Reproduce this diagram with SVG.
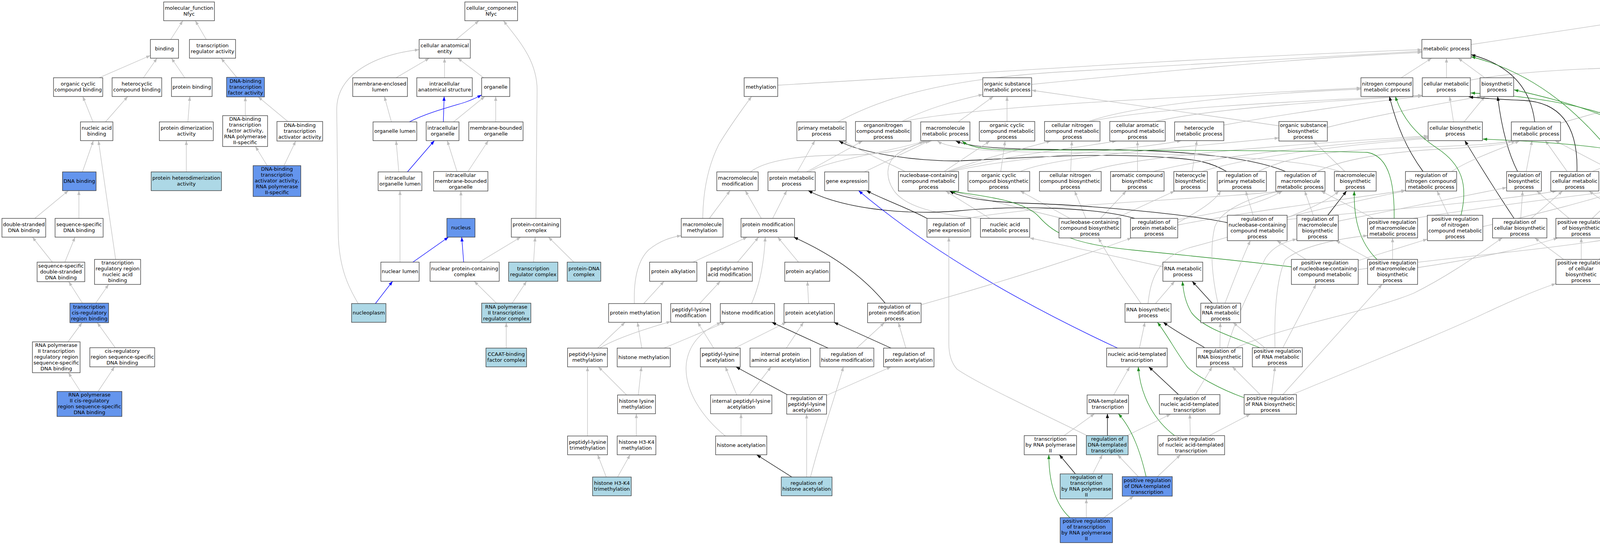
<svg xmlns="http://www.w3.org/2000/svg" width="4565" height="1395" viewBox="0 0 4565 1395">
<style>
text{font-family:"DejaVu Sans",Verdana,sans-serif;font-size:13px;text-anchor:middle;fill:#000}
rect.w,rect.lb,rect.bl{stroke:#333;stroke-width:1.3}
.w{fill:#fff}.lb{fill:#add8e6}.bl{fill:#6495ed}
#edges path{fill:none;stroke-width:1.3}
.g{stroke:#bebebe;marker-end:url(#ag)}
.k{stroke:#000;marker-end:url(#ak)}
.b{stroke:#0000ff;marker-end:url(#ab)}
.v{stroke:#228b22;marker-end:url(#av)}
</style>
<defs>
<marker id="ag" viewBox="0 0 11 8" refX="11" refY="4" markerWidth="11" markerHeight="8" markerUnits="userSpaceOnUse" orient="auto"><path d="M0,0L11,4L0,8z" fill="#bebebe"/></marker>
<marker id="ak" viewBox="0 0 11 8" refX="11" refY="4" markerWidth="11" markerHeight="8" markerUnits="userSpaceOnUse" orient="auto"><path d="M0,0L11,4L0,8z" fill="#000"/></marker>
<marker id="ab" viewBox="0 0 11 8" refX="11" refY="4" markerWidth="11" markerHeight="8" markerUnits="userSpaceOnUse" orient="auto"><path d="M0,0L11,4L0,8z" fill="#0000ff"/></marker>
<marker id="av" viewBox="0 0 11 8" refX="11" refY="4" markerWidth="11" markerHeight="8" markerUnits="userSpaceOnUse" orient="auto"><path d="M0,0L11,4L0,8z" fill="#228b22"/></marker>
</defs>
<rect x="0" y="0" width="4565" height="1395" fill="#fff"/>
<g id="edges">
<path class="g" d="M437,101 L468,53"/>
<path class="g" d="M528,101 L500,53"/>
<path class="g" d="M254,199 L385,142"/>
<path class="g" d="M367,199 L402,149"/>
<path class="g" d="M473,199 L439,149"/>
<path class="g" d="M606,198 L566,149"/>
<path class="g" d="M238,312 L212,247"/>
<path class="g" d="M270,312 L327,247"/>
<path class="g" d="M481,312 L486,247"/>
<path class="g" d="M628,296 L628,248"/>
<path class="g" d="M737,311 L661,248"/>
<path class="g" d="M211,440 L239,360"/>
<path class="g" d="M296,664 L252,360"/>
<path class="g" d="M477,440 L477,360"/>
<path class="g" d="M684,424 L654,375"/>
<path class="g" d="M727,424 L757,361"/>
<path class="g" d="M89,559 L175,488"/>
<path class="g" d="M202,559 L202,488"/>
<path class="g" d="M134,671 L83,607"/>
<path class="g" d="M166,671 L192,607"/>
<path class="g" d="M211,776 L176,721"/>
<path class="g" d="M245,776 L278,728"/>
<path class="g" d="M174,875 L210,826"/>
<path class="g" d="M295,890 L249,826"/>
<path class="g" d="M206,1002 L175,954"/>
<path class="g" d="M251,1002 L293,939"/>
<path class="g" d="M1168,101 L1226,53"/>
<path class="g" d="M1372,559 L1375,230 C1375,150 1320,95 1289,53"/>
<path class="g" d="M1014,199 L1099,149"/>
<path class="g" d="M1138,199 L1138,149"/>
<path class="g" d="M1238,199 L1172,149"/>
<path class="g" d="M1002,312 L984,247"/>
<path class="b" d="M1048,312 C1090,290 1150,274 1190,262 C1210,255 1222,249 1233,243"/>
<path class="b" d="M1135,312 L1137,247"/>
<path class="g" d="M1161,312 L1241,247"/>
<path class="g" d="M1269,312 L1269,247"/>
<path class="g" d="M1021,440 L1014,360"/>
<path class="b" d="M1043,440 L1112,360"/>
<path class="g" d="M1170,439 L1145,360"/>
<path class="g" d="M1198,439 L1250,360"/>
<path class="g" d="M1180,559 L1180,489"/>
<path class="g" d="M1024,671 L1024,488"/>
<path class="b" d="M1057,671 L1148,607"/>
<path class="b" d="M1187,671 L1182,607"/>
<path class="g" d="M1227,671 L1333,607"/>
<path class="g" d="M1366,671 L1370,607"/>
<path class="g" d="M1469,671 L1404,607"/>
<path class="b" d="M961,777 L1005,720"/>
<path class="g" d="M917,777 C895,740 868,690 866,600 L862,280 C862,190 960,140 1073,127"/>
<path class="g" d="M1271,776 L1214,720"/>
<path class="g" d="M1311,776 L1348,720"/>
<path class="g" d="M1296,891 L1296,826"/>
<path class="g" d="M1991,218 C2400,195 3000,150 3640,127"/>
<path class="g" d="M2145,312 C2250,255 2400,205 2700,185 L3640,131"/>
<path class="g" d="M2641,216 C2900,190 3300,150 3640,134"/>
<path class="g" d="M2309,311 C2360,283 2440,258 2516,242"/>
<path class="g" d="M2312,311 C2500,270 3100,245 3484,225"/>
<path class="g" d="M2453,312 L2543,247"/>
<path class="g" d="M2578,311 L2578,247"/>
<path class="g" d="M2787,311 C2900,270 3200,240 3484,228"/>
<path class="g" d="M2792,311 C2950,275 3350,258 3641,244"/>
<path class="g" d="M2958,311 C3100,278 3400,258 3641,245"/>
<path class="g" d="M3133,320 C3300,290 3500,262 3641,246"/>
<path class="g" d="M3274,322 L2641,231"/>
<path class="g" d="M3398,326 C3500,300 3700,262 3793,247"/>
<path class="g" d="M3748,312 L3801,247"/>
<path class="g" d="M3721,312 L3711,247"/>
<path class="g" d="M3587,199 L3665,149"/>
<path class="g" d="M3703,199 L3703,149"/>
<path class="g" d="M3801,199 L3733,149"/>
<path class="g" d="M3764,205 C3900,180 4100,174 4200,172 C4300,170 4370,160 4406,148"/>
<path class="g" d="M3766,114 L4249,41"/>
<path class="g" d="M4312,101 L4312,53"/>
<path class="g" d="M4422,101 L4351,53"/>
<path class="g" d="M4312,199 L4312,149"/>
<path class="k" d="M4273,199 C4240,175 4215,150 4224,120 C4232,92 4250,70 4266,53"/>
<path class="k" d="M3929,312 C3920,240 3880,170 3766,140"/>
<path class="g" d="M3995,315 L4250,243"/>
<path class="v" d="M4166,439 C4090,350 3980,200 3766,145"/>
<path class="g" d="M4132,439 L3981,360"/>
<path class="g" d="M4244,440 L4429,361"/>
<path class="g" d="M4329,312 L4317,247"/>
<path class="k" d="M4347,312 L4444,149"/>
<path class="g" d="M4439,311 L4351,247"/>
<path class="v" d="M4493,311 C4540,230 4560,150 4530,100 C4500,55 4430,38 4376,32"/>
<path class="g" d="M4454,439 L4366,360"/>
<path class="g" d="M4483,439 L4478,361"/>
<path class="v" d="M4512,439 C4560,390 4565,330 4545,270 C4525,210 4500,180 4481,149"/>
<path class="g" d="M3907,439 L3922,360"/>
<path class="k" d="M3885,439 C3860,390 3843,320 3834,247"/>
<path class="g" d="M4012,439 L3956,360"/>
<path class="g" d="M4076,439 L4280,357"/>
<path class="k" d="M4037,439 C4040,330 4000,262 3900,257 C3830,254 3790,251 3760,248"/>
<path class="v" d="M4224,559 C4275,480 4240,340 4100,290 C3980,252 3850,242 3765,238"/>
<path class="v" d="M4107,558 C4200,545 4275,510 4265,440 C4255,360 4150,290 3876,230"/>
<path class="v" d="M4112,690 C4250,660 4320,560 4300,460 C4280,380 4000,365 3796,356"/>
<path class="g" d="M3893,559 L3898,489"/>
<path class="g" d="M3920,559 L4000,489"/>
<path class="k" d="M3876,559 C3830,490 3780,410 3750,360"/>
<path class="g" d="M4017,559 L3934,489"/>
<path class="g" d="M4076,559 L4149,489"/>
<path class="g" d="M4166,559 L4068,489"/>
<path class="g" d="M4195,559 L4188,489"/>
<path class="g" d="M4264,559 L4434,489"/>
<path class="g" d="M4003,664 L3929,609"/>
<path class="g" d="M4048,664 L4048,609"/>
<path class="g" d="M4093,664 L4161,609"/>
<path class="k" d="M3140,439 C3100,415 3060,408 3000,404 C2800,388 2600,406 2450,412 C2330,412 2200,390 2148,361"/>
<path class="k" d="M3291,439 C3200,400 3000,383 2800,383 C2600,383 2490,380 2447,361"/>
<path class="g" d="M3221,439 C3300,400 3400,385 3600,378 C3750,373 3830,370 3872,360"/>
<path class="g" d="M3372,439 C3450,400 3600,386 3700,381 C3800,376 3850,370 3880,361"/>
<path class="g" d="M3716,439 C3760,410 3830,385 3890,361"/>
<path class="k" d="M3643,439 C3600,380 3575,320 3557,247"/>
<path class="g" d="M3443,439 L3362,361"/>
<path class="g" d="M3430,439 C3300,395 2900,392 2700,390 C2550,389 2430,382 2400,361"/>
<path class="g" d="M2741,439 L2744,361"/>
<path class="g" d="M2787,439 C2900,400 3300,370 3656,348"/>
<path class="g" d="M2912,439 L2912,361"/>
<path class="g" d="M2953,439 C3100,400 3400,370 3656,351"/>
<path class="g" d="M3052,439 L3064,360"/>
<path class="g" d="M3077,439 C3200,400 3450,370 3656,354"/>
<path class="g" d="M2562,439 L2573,361"/>
<path class="g" d="M2612,439 C2700,400 3000,380 3274,353"/>
<path class="g" d="M2317,439 C2270,415 2200,385 2158,360"/>
<path class="g" d="M2417,439 L2534,361"/>
<path class="g" d="M2426,439 C2500,410 2620,380 2690,361"/>
<path class="g" d="M2430,439 C2550,400 2750,380 2858,361"/>
<path class="g" d="M2435,439 C2600,400 2900,385 3024,360"/>
<path class="g" d="M2534,559 L2421,489"/>
<path class="g" d="M2514,559 C2400,550 2320,530 2290,490 C2265,455 2270,420 2290,400 C2320,375 2360,365 2386,360"/>
<path class="k" d="M2373,559 C2330,535 2260,510 2218,488"/>
<path class="g" d="M2475,559 C2700,520 3100,510 3280,489"/>
<path class="g" d="M2719,559 L2436,489"/>
<path class="g" d="M2739,559 L2612,489"/>
<path class="g" d="M2780,559 L2751,489"/>
<path class="g" d="M2817,559 L2883,489"/>
<path class="g" d="M2856,559 L3007,489"/>
<path class="k" d="M2905,559 C2800,530 2600,525 2450,540 C2300,552 2150,530 2069,488"/>
<path class="g" d="M3015,562 C3150,540 3230,520 3283,489"/>
<path class="g" d="M3015,570 C3070,540 3110,515 3125,489"/>
<path class="g" d="M3015,576 C3200,540 3450,510 3598,487"/>
<path class="k" d="M3142,570 C3050,550 2800,525 2620,520 C2520,516 2460,505 2431,489"/>
<path class="v" d="M3306,683 C3200,670 3050,655 2900,640 C2750,625 2700,600 2660,555 C2620,510 2500,500 2434,489"/>
<path class="g" d="M3208,551 L3189,489"/>
<path class="g" d="M3295,556 C3400,530 3520,505 3598,488"/>
<path class="g" d="M3295,562 C3500,540 3800,520 3985,489"/>
<path class="k" d="M3399,551 L3447,489"/>
<path class="g" d="M3362,551 L3340,489"/>
<path class="g" d="M3426,566 C3600,530 3750,500 3857,480"/>
<path class="g" d="M3516,559 L3382,489"/>
<path class="v" d="M3569,559 C3570,480 3560,400 3500,390 C3300,383 2700,385 2560,383 C2510,381 2480,375 2463,361"/>
<path class="g" d="M3618,559 C3800,530 4000,505 4132,489"/>
<path class="g" d="M3708,551 L3679,489"/>
<path class="v" d="M3740,551 C3760,470 3740,420 3680,380 C3620,340 3590,300 3572,247"/>
<path class="g" d="M3796,580 C3950,545 4080,510 4142,489"/>
<path class="g" d="M3343,664 L3269,616"/>
<path class="g" d="M3477,667 L3654,612"/>
<path class="g" d="M3477,690 C3700,660 3950,640 4140,609"/>
<path class="g" d="M3565,664 L3565,609"/>
<path class="g" d="M3508,664 L3420,616"/>
<path class="v" d="M3525,664 C3480,620 3465,560 3467,489"/>
<path class="g" d="M3629,685 C3800,660 3920,630 3988,609"/>
<path class="g" d="M2978,683 L2636,609"/>
<path class="g" d="M2958,777 L3007,720"/>
<path class="g" d="M2921,777 C2890,730 2850,680 2812,609"/>
<path class="g" d="M2939,777 C2945,720 2960,660 3045,634 C3250,580 3380,530 3428,489"/>
<path class="k" d="M3103,776 L3052,720"/>
<path class="g" d="M3136,776 C3150,740 3180,660 3201,616"/>
<path class="g" d="M3118,776 C3105,720 3095,640 3110,580 C3130,530 3220,500 3279,489"/>
<path class="g" d="M3123,890 L3124,826"/>
<path class="k" d="M3084,890 C3060,875 3020,855 2978,825"/>
<path class="g" d="M3142,890 C3160,820 3210,720 3240,660 C3260,630 3290,618 3320,612"/>
<path class="g" d="M3164,890 C3300,830 3500,800 3620,750 C3720,700 3800,640 3846,609"/>
<path class="g" d="M3238,890 L3157,826"/>
<path class="v" d="M3225,890 C3150,860 3080,840 3050,800 C3035,775 3030,750 3027,720"/>
<path class="g" d="M3284,890 L3369,728"/>
<path class="g" d="M3264,890 C3262,820 3265,720 3290,665 C3330,630 3430,610 3501,603"/>
<path class="g" d="M3226,1010 L3155,939"/>
<path class="g" d="M3255,1010 L3264,939"/>
<path class="g" d="M3284,1010 L3538,728"/>
<path class="g" d="M3308,1010 C3500,930 3700,850 3805,800 C3880,765 3940,740 3983,726"/>
<path class="v" d="M3185,1018 C3120,995 3060,960 3040,940 C3010,900 2990,860 2963,825"/>
<path class="g" d="M3060,1010 L3103,939"/>
<path class="k" d="M3017,1010 L2941,939"/>
<path class="g" d="M3047,1115 L3046,1060"/>
<path class="g" d="M3096,1115 L3201,1060"/>
<path class="v" d="M3007,1115 C2960,1080 2920,1020 2914,939"/>
<path class="g" d="M2917,891 L2931,825"/>
<path class="b" d="M2861,891 Q2450,700 2198,488"/>
<path class="g" d="M2851,1011 L2892,939"/>
<path class="g" d="M2724,1115 L2802,1059"/>
<path class="k" d="M2835,1115 L2835,1059"/>
<path class="g" d="M2885,1115 L2997,1060"/>
<path class="g" d="M2783,1115 C2650,1050 2500,980 2450,945 C2432,925 2429,900 2429,880 L2429,607"/>
<path class="g" d="M2914,1220 L2861,1164"/>
<path class="v" d="M2934,1220 C2920,1160 2900,1100 2863,1059"/>
<path class="g" d="M2963,1220 L3022,1164"/>
<path class="k" d="M2753,1213 L2712,1164"/>
<path class="g" d="M2797,1213 L2822,1164"/>
<path class="v" d="M2739,1325 C2700,1290 2685,1230 2685,1164"/>
<path class="g" d="M2781,1325 L2781,1277"/>
<path class="g" d="M2826,1325 L2902,1270"/>
<path class="g" d="M1774,671 L1913,607"/>
<path class="g" d="M1888,671 L1942,607"/>
<path class="g" d="M2044,671 L1991,607"/>
<path class="g" d="M1924,777 C1940,740 1955,690 1959,607"/>
<path class="k" d="M2266,776 C2220,720 2150,660 2032,607"/>
<path class="g" d="M2358,780 C2500,740 2700,680 2897,609"/>
<path class="g" d="M1648,777 L1700,720"/>
<path class="g" d="M1624,777 C1622,720 1630,670 1660,640 C1690,615 1720,607 1744,603"/>
<path class="g" d="M1791,777 L1844,720"/>
<path class="g" d="M2070,777 L2067,720"/>
<path class="g" d="M1530,891 L1600,825"/>
<path class="g" d="M1535,891 C1570,870 1640,845 1717,823"/>
<path class="g" d="M1643,891 L1632,825"/>
<path class="g" d="M1700,891 L1857,825"/>
<path class="g" d="M1827,891 L1786,825"/>
<path class="g" d="M1881,891 L2013,825"/>
<path class="g" d="M2013,891 L2057,825"/>
<path class="k" d="M2120,891 L1976,825"/>
<path class="g" d="M2193,891 L2264,826"/>
<path class="k" d="M2281,891 L2135,825"/>
<path class="g" d="M2319,891 L2300,826"/>
<path class="g" d="M1604,1011 L1532,939"/>
<path class="g" d="M1634,1011 L1642,939"/>
<path class="g" d="M1886,1011 L1857,939"/>
<path class="g" d="M1918,1011 L1974,939"/>
<path class="k" d="M2015,1010 L1884,939"/>
<path class="g" d="M2116,1012 L2281,939"/>
<path class="g" d="M1629,1116 L1629,1059"/>
<path class="g" d="M1504,1116 L1504,939"/>
<path class="g" d="M1897,1116 L1897,1059"/>
<path class="g" d="M1857,1116 C1800,1070 1750,1000 1757,930 C1765,870 1810,840 1846,825"/>
<path class="g" d="M1552,1221 L1530,1164"/>
<path class="g" d="M1581,1221 L1613,1164"/>
<path class="k" d="M2027,1221 L1937,1164"/>
<path class="g" d="M2065,1221 L2065,1060"/>
<path class="g" d="M2075,1221 C2100,1120 2140,1010 2159,939"/>
<path class="g" d="M1799,559 C1800,480 1815,420 1840,370 C1870,320 1900,280 1924,247"/>
<path class="g" d="M1816,559 L1869,488"/>
<path class="g" d="M1949,559 L1908,488"/>
<path class="g" d="M1978,559 L2014,488"/>
<path class="g" d="M1921,440 C1960,410 2050,398 2150,397 C2260,396 2330,385 2364,360"/>
<path class="g" d="M2041,440 L2086,360"/>
<path class="g" d="M2065,440 L2208,361"/>
<path class="g" d="M2071,440 C2120,410 2250,395 2372,360"/>
<path class="g" d="M2213,440 L2380,360"/>
</g>
<g id="n-molecular_function"><rect class="w" x="419" y="5" width="130" height="48"/><text x="484" y="25">molecular_function<tspan x="484" dy="15">Nfyc</tspan></text></g>
<g id="n-binding"><rect class="w" x="385" y="101" width="72" height="48"/><text x="421" y="128.5">binding</text></g>
<g id="n-transcription-regulator-activity"><rect class="w" x="485" y="101" width="118" height="48"/><text x="544" y="121">transcription<tspan x="544" dy="15">regulator activity</tspan></text></g>
<g id="n-organic-cyclic-compound-binding"><rect class="w" x="137" y="199" width="126" height="48"/><text x="200" y="219">organic cyclic<tspan x="200" dy="15">compound binding</tspan></text></g>
<g id="n-heterocyclic-compound-binding"><rect class="w" x="287" y="199" width="127" height="48"/><text x="350.5" y="219">heterocyclic<tspan x="350.5" dy="15">compound binding</tspan></text></g>
<g id="n-protein-binding"><rect class="w" x="439" y="199" width="104" height="48"/><text x="491" y="226.5">protein binding</text></g>
<g id="n-dna-binding-tf-activity"><rect class="bl" x="580" y="198" width="97" height="50"/><text x="628.5" y="211.5">DNA-binding<tspan x="628.5" dy="15">transcription</tspan><tspan x="628.5" dy="15">factor activity</tspan></text></g>
<g id="n-nucleic-acid-binding"><rect class="w" x="206" y="312" width="83" height="48"/><text x="247.5" y="332">nucleic acid<tspan x="247.5" dy="15">binding</tspan></text></g>
<g id="n-protein-dimerization-activity"><rect class="w" x="408" y="312" width="138" height="48"/><text x="477" y="332">protein dimerization<tspan x="477" dy="15">activity</tspan></text></g>
<g id="n-dna-binding-tf-activity-rnap2"><rect class="w" x="570" y="296" width="115" height="79"/><text x="627.5" y="309">DNA-binding<tspan x="627.5" dy="15">transcription</tspan><tspan x="627.5" dy="15">factor activity,</tspan><tspan x="627.5" dy="15">RNA polymerase</tspan><tspan x="627.5" dy="15">II-specific</tspan></text></g>
<g id="n-dna-binding-ta-activity"><rect class="w" x="709" y="311" width="117" height="50"/><text x="767.5" y="324.5">DNA-binding<tspan x="767.5" dy="15">transcription</tspan><tspan x="767.5" dy="15">activator activity</tspan></text></g>
<g id="n-dna-binding"><rect class="bl" x="160" y="440" width="86" height="48"/><text x="203" y="467.5">DNA binding</text></g>
<g id="n-protein-heterodimerization-activity"><rect class="lb" x="387" y="440" width="180" height="48"/><text x="477" y="460">protein heterodimerization<tspan x="477" dy="15">activity</tspan></text></g>
<g id="n-dna-binding-ta-activity-rnap2"><rect class="bl" x="648" y="424" width="122" height="79"/><text x="709" y="437">DNA-binding<tspan x="709" dy="15">transcription</tspan><tspan x="709" dy="15">activator activity,</tspan><tspan x="709" dy="15">RNA polymerase</tspan><tspan x="709" dy="15">II-specific</tspan></text></g>
<g id="n-double-stranded-dna-binding"><rect class="w" x="5" y="559" width="112" height="48"/><text x="61" y="579">double-stranded<tspan x="61" dy="15">DNA binding</tspan></text></g>
<g id="n-sequence-specific-dna-binding"><rect class="w" x="141" y="559" width="123" height="48"/><text x="202.5" y="579">sequence-specific<tspan x="202.5" dy="15">DNA binding</tspan></text></g>
<g id="n-ss-ds-dna-binding"><rect class="w" x="95" y="671" width="122" height="50"/><text x="156" y="684.5">sequence-specific<tspan x="156" dy="15">double-stranded</tspan><tspan x="156" dy="15">DNA binding</tspan></text></g>
<g id="n-transcription-regulatory-region-na-binding"><rect class="w" x="242" y="664" width="118" height="64"/><text x="301" y="677">transcription<tspan x="301" dy="15">regulatory region</tspan><tspan x="301" dy="15">nucleic acid</tspan><tspan x="301" dy="15">binding</tspan></text></g>
<g id="n-transcription-cis-regulatory-region-binding"><rect class="bl" x="179" y="776" width="99" height="50"/><text x="228.5" y="789.5">transcription<tspan x="228.5" dy="15">cis-regulatory</tspan><tspan x="228.5" dy="15">region binding</tspan></text></g>
<g id="n-rnap2-trr-ss-dna-binding"><rect class="w" x="83" y="875" width="122" height="79"/><text x="144" y="888">RNA polymerase<tspan x="144" dy="15">II transcription</tspan><tspan x="144" dy="15">regulatory region</tspan><tspan x="144" dy="15">sequence-specific</tspan><tspan x="144" dy="15">DNA binding</tspan></text></g>
<g id="n-cis-regulatory-ss-dna-binding"><rect class="w" x="230" y="890" width="166" height="49"/><text x="313" y="903">cis-regulatory<tspan x="313" dy="15">region sequence-specific</tspan><tspan x="313" dy="15">DNA binding</tspan></text></g>
<g id="n-rnap2-cis-regulatory-ss-dna-binding"><rect class="bl" x="146" y="1002" width="166" height="64"/><text x="229" y="1015">RNA polymerase<tspan x="229" dy="15">II cis-regulatory</tspan><tspan x="229" dy="15">region sequence-specific</tspan><tspan x="229" dy="15">DNA binding</tspan></text></g>
<g id="n-cellular_component"><rect class="w" x="1190" y="5" width="135" height="48"/><text x="1257.5" y="25">cellular_component<tspan x="1257.5" dy="15">Nfyc</tspan></text></g>
<g id="n-cellular-anatomical-entity"><rect class="w" x="1073" y="101" width="131" height="48"/><text x="1138.5" y="121">cellular anatomical<tspan x="1138.5" dy="15">entity</tspan></text></g>
<g id="n-membrane-enclosed-lumen"><rect class="w" x="903" y="199" width="140" height="48"/><text x="973" y="219">membrane-enclosed<tspan x="973" dy="15">lumen</tspan></text></g>
<g id="n-intracellular-anatomical-structure"><rect class="w" x="1067" y="199" width="142" height="48"/><text x="1138" y="219">intracellular<tspan x="1138" dy="15">anatomical structure</tspan></text></g>
<g id="n-organelle"><rect class="w" x="1233" y="199" width="72" height="48"/><text x="1269" y="226.5">organelle</text></g>
<g id="n-organelle-lumen"><rect class="w" x="955" y="312" width="112" height="48"/><text x="1011" y="339.5">organelle lumen</text></g>
<g id="n-intracellular-organelle"><rect class="w" x="1091" y="312" width="84" height="48"/><text x="1133" y="332">intracellular<tspan x="1133" dy="15">organelle</tspan></text></g>
<g id="n-membrane-bounded-organelle"><rect class="w" x="1200" y="312" width="139" height="48"/><text x="1269.5" y="332">membrane-bounded<tspan x="1269.5" dy="15">organelle</tspan></text></g>
<g id="n-intracellular-organelle-lumen"><rect class="w" x="968" y="440" width="112" height="48"/><text x="1024" y="460">intracellular<tspan x="1024" dy="15">organelle lumen</tspan></text></g>
<g id="n-intracellular-membrane-bounded-organelle"><rect class="w" x="1110" y="439" width="139" height="50"/><text x="1179.5" y="452.5">intracellular<tspan x="1179.5" dy="15">membrane-bounded</tspan><tspan x="1179.5" dy="15">organelle</tspan></text></g>
<g id="n-nucleus"><rect class="bl" x="1144" y="559" width="72" height="48"/><text x="1180" y="586.5">nucleus</text></g>
<g id="n-protein-containing-complex"><rect class="w" x="1309" y="559" width="126" height="48"/><text x="1372" y="579">protein-containing<tspan x="1372" dy="15">complex</tspan></text></g>
<g id="n-nuclear-lumen"><rect class="w" x="975" y="671" width="98" height="49"/><text x="1024" y="699">nuclear lumen</text></g>
<g id="n-nuclear-protein-containing-complex"><rect class="w" x="1101" y="671" width="177" height="49"/><text x="1189.5" y="691.5">nuclear protein-containing<tspan x="1189.5" dy="15">complex</tspan></text></g>
<g id="n-transcription-regulator-complex"><rect class="lb" x="1302" y="671" width="126" height="49"/><text x="1365" y="691.5">transcription<tspan x="1365" dy="15">regulator complex</tspan></text></g>
<g id="n-protein-dna-complex"><rect class="lb" x="1452" y="671" width="86" height="49"/><text x="1495" y="691.5">protein-DNA<tspan x="1495" dy="15">complex</tspan></text></g>
<g id="n-nucleoplasm"><rect class="lb" x="900" y="777" width="88" height="48"/><text x="944" y="804.5">nucleoplasm</text></g>
<g id="n-rnap2-transcription-regulator-complex"><rect class="lb" x="1233" y="776" width="126" height="50"/><text x="1296" y="789.5">RNA polymerase<tspan x="1296" dy="15">II transcription</tspan><tspan x="1296" dy="15">regulator complex</tspan></text></g>
<g id="n-ccaat-binding-factor-complex"><rect class="lb" x="1244" y="891" width="104" height="48"/><text x="1296" y="911">CCAAT-binding<tspan x="1296" dy="15">factor complex</tspan></text></g>
<g id="n-biological_process"><rect class="w" x="4249" y="5" width="127" height="48"/><text x="4312.5" y="25">biological_process<tspan x="4312.5" dy="15">Nfyc</tspan></text></g>
<g id="n-metabolic-process"><rect class="w" x="3640" y="101" width="126" height="48"/><text x="3703" y="128.5">metabolic process</text></g>
<g id="n-biological-regulation"><rect class="w" x="4242" y="101" width="139" height="48"/><text x="4311.5" y="128.5">biological regulation</text></g>
<g id="n-cellular-process"><rect class="w" x="4406" y="101" width="107" height="48"/><text x="4459.5" y="128.5">cellular process</text></g>
<g id="n-methylation"><rect class="w" x="1905" y="199" width="86" height="48"/><text x="1948" y="226.5">methylation</text></g>
<g id="n-organic-substance-metabolic-process"><rect class="w" x="2516" y="199" width="125" height="48"/><text x="2578.5" y="219">organic substance<tspan x="2578.5" dy="15">metabolic process</tspan></text></g>
<g id="n-nitrogen-compound-metabolic-process"><rect class="w" x="3484" y="199" width="133" height="48"/><text x="3550.5" y="219">nitrogen compound<tspan x="3550.5" dy="15">metabolic process</tspan></text></g>
<g id="n-cellular-metabolic-process"><rect class="w" x="3641" y="199" width="123" height="48"/><text x="3702.5" y="219">cellular metabolic<tspan x="3702.5" dy="15">process</tspan></text></g>
<g id="n-biosynthetic-process"><rect class="w" x="3789" y="199" width="86" height="48"/><text x="3832" y="219">biosynthetic<tspan x="3832" dy="15">process</tspan></text></g>
<g id="n-regulation-of-biological-process"><rect class="w" x="4250" y="199" width="123" height="48"/><text x="4311.5" y="219">regulation of<tspan x="4311.5" dy="15">biological process</tspan></text></g>
<g id="n-primary-metabolic-process"><rect class="w" x="2040" y="312" width="126" height="48"/><text x="2103" y="332">primary metabolic<tspan x="2103" dy="15">process</tspan></text></g>
<g id="n-organonitrogen-compound-metabolic-process"><rect class="w" x="2190" y="311" width="142" height="50"/><text x="2261" y="324.5">organonitrogen<tspan x="2261" dy="15">compound metabolic</tspan><tspan x="2261" dy="15">process</tspan></text></g>
<g id="n-macromolecule-metabolic-process"><rect class="w" x="2357" y="312" width="126" height="48"/><text x="2420" y="332">macromolecule<tspan x="2420" dy="15">metabolic process</tspan></text></g>
<g id="n-organic-cyclic-compound-metabolic-process"><rect class="w" x="2507" y="311" width="142" height="50"/><text x="2578" y="324.5">organic cyclic<tspan x="2578" dy="15">compound metabolic</tspan><tspan x="2578" dy="15">process</tspan></text></g>
<g id="n-cellular-nitrogen-compound-metabolic-process"><rect class="w" x="2674" y="311" width="142" height="50"/><text x="2745" y="324.5">cellular nitrogen<tspan x="2745" dy="15">compound metabolic</tspan><tspan x="2745" dy="15">process</tspan></text></g>
<g id="n-cellular-aromatic-compound-metabolic-process"><rect class="w" x="2841" y="311" width="142" height="50"/><text x="2912" y="324.5">cellular aromatic<tspan x="2912" dy="15">compound metabolic</tspan><tspan x="2912" dy="15">process</tspan></text></g>
<g id="n-heterocycle-metabolic-process"><rect class="w" x="3007" y="312" width="126" height="48"/><text x="3070" y="332">heterocycle<tspan x="3070" dy="15">metabolic process</tspan></text></g>
<g id="n-organic-substance-biosynthetic-process"><rect class="w" x="3274" y="311" width="124" height="50"/><text x="3336" y="324.5">organic substance<tspan x="3336" dy="15">biosynthetic</tspan><tspan x="3336" dy="15">process</tspan></text></g>
<g id="n-cellular-biosynthetic-process"><rect class="w" x="3656" y="312" width="139" height="48"/><text x="3725.5" y="332">cellular biosynthetic<tspan x="3725.5" dy="15">process</tspan></text></g>
<g id="n-regulation-of-metabolic-process"><rect class="w" x="3869" y="312" width="126" height="48"/><text x="3932" y="332">regulation of<tspan x="3932" dy="15">metabolic process</tspan></text></g>
<g id="n-regulation-of-cellular-process"><rect class="w" x="4280" y="312" width="107" height="48"/><text x="4333.5" y="332">regulation of<tspan x="4333.5" dy="15">cellular process</tspan></text></g>
<g id="n-positive-regulation-of-biological-process"><rect class="w" x="4412" y="311" width="128" height="50"/><text x="4476" y="324.5">positive regulation<tspan x="4476" dy="15">of biological</tspan><tspan x="4476" dy="15">process</tspan></text></g>
<g id="n-macromolecule-modification"><rect class="w" x="1835" y="440" width="106" height="48"/><text x="1888" y="460">macromolecule<tspan x="1888" dy="15">modification</tspan></text></g>
<g id="n-protein-metabolic-process"><rect class="w" x="1966" y="440" width="121" height="48"/><text x="2026.5" y="460">protein metabolic<tspan x="2026.5" dy="15">process</tspan></text></g>
<g id="n-gene-expression"><rect class="w" x="2111" y="440" width="113" height="48"/><text x="2167.5" y="467.5">gene expression</text></g>
<g id="n-nucleobase-containing-compound-metabolic-process"><rect class="w" x="2300" y="439" width="154" height="50"/><text x="2377" y="452.5">nucleobase-containing<tspan x="2377" dy="15">compound metabolic</tspan><tspan x="2377" dy="15">process</tspan></text></g>
<g id="n-organic-cyclic-compound-biosynthetic-process"><rect class="w" x="2478" y="439" width="158" height="50"/><text x="2557" y="452.5">organic cyclic<tspan x="2557" dy="15">compound biosynthetic</tspan><tspan x="2557" dy="15">process</tspan></text></g>
<g id="n-cellular-nitrogen-compound-biosynthetic-process"><rect class="w" x="2661" y="439" width="158" height="50"/><text x="2740" y="452.5">cellular nitrogen<tspan x="2740" dy="15">compound biosynthetic</tspan><tspan x="2740" dy="15">process</tspan></text></g>
<g id="n-aromatic-compound-biosynthetic-process"><rect class="w" x="2843" y="439" width="137" height="50"/><text x="2911.5" y="452.5">aromatic compound<tspan x="2911.5" dy="15">biosynthetic</tspan><tspan x="2911.5" dy="15">process</tspan></text></g>
<g id="n-heterocycle-biosynthetic-process"><rect class="w" x="3005" y="439" width="86" height="50"/><text x="3048" y="452.5">heterocycle<tspan x="3048" dy="15">biosynthetic</tspan><tspan x="3048" dy="15">process</tspan></text></g>
<g id="n-regulation-of-primary-metabolic-process"><rect class="w" x="3116" y="439" width="126" height="50"/><text x="3179" y="452.5">regulation of<tspan x="3179" dy="15">primary metabolic</tspan><tspan x="3179" dy="15">process</tspan></text></g>
<g id="n-regulation-of-macromolecule-metabolic-process"><rect class="w" x="3266" y="439" width="126" height="50"/><text x="3329" y="452.5">regulation of<tspan x="3329" dy="15">macromolecule</tspan><tspan x="3329" dy="15">metabolic process</tspan></text></g>
<g id="n-macromolecule-biosynthetic-process"><rect class="w" x="3416" y="439" width="107" height="50"/><text x="3469.5" y="452.5">macromolecule<tspan x="3469.5" dy="15">biosynthetic</tspan><tspan x="3469.5" dy="15">process</tspan></text></g>
<g id="n-regulation-of-nitrogen-compound-metabolic-process"><rect class="w" x="3598" y="439" width="131" height="50"/><text x="3663.5" y="452.5">regulation of<tspan x="3663.5" dy="15">nitrogen compound</tspan><tspan x="3663.5" dy="15">metabolic process</tspan></text></g>
<g id="n-regulation-of-biosynthetic-process"><rect class="w" x="3857" y="439" width="89" height="50"/><text x="3901.5" y="452.5">regulation of<tspan x="3901.5" dy="15">biosynthetic</tspan><tspan x="3901.5" dy="15">process</tspan></text></g>
<g id="n-regulation-of-cellular-metabolic-process"><rect class="w" x="3970" y="439" width="123" height="50"/><text x="4031.5" y="452.5">regulation of<tspan x="4031.5" dy="15">cellular metabolic</tspan><tspan x="4031.5" dy="15">process</tspan></text></g>
<g id="n-positive-regulation-of-metabolic-process"><rect class="w" x="4118" y="439" width="127" height="50"/><text x="4181.5" y="452.5">positive regulation<tspan x="4181.5" dy="15">of metabolic</tspan><tspan x="4181.5" dy="15">process</tspan></text></g>
<g id="n-positive-regulation-of-cellular-process"><rect class="w" x="4421" y="439" width="128" height="50"/><text x="4485" y="452.5">positive regulation<tspan x="4485" dy="15">of cellular</tspan><tspan x="4485" dy="15">process</tspan></text></g>
<g id="n-macromolecule-methylation"><rect class="w" x="1744" y="559" width="107" height="48"/><text x="1797.5" y="579">macromolecule<tspan x="1797.5" dy="15">methylation</tspan></text></g>
<g id="n-protein-modification-process"><rect class="w" x="1897" y="559" width="137" height="48"/><text x="1965.5" y="579">protein modification<tspan x="1965.5" dy="15">process</tspan></text></g>
<g id="n-regulation-of-gene-expression"><rect class="w" x="2373" y="559" width="112" height="48"/><text x="2429" y="579">regulation of<tspan x="2429" dy="15">gene expression</tspan></text></g>
<g id="n-nucleic-acid-metabolic-process"><rect class="w" x="2510" y="559" width="126" height="48"/><text x="2573" y="579">nucleic acid<tspan x="2573" dy="15">metabolic process</tspan></text></g>
<g id="n-nucleobase-containing-compound-biosynthetic-process"><rect class="w" x="2711" y="559" width="158" height="50"/><text x="2790" y="572.5">nucleobase-containing<tspan x="2790" dy="15">compound biosynthetic</tspan><tspan x="2790" dy="15">process</tspan></text></g>
<g id="n-regulation-of-protein-metabolic-process"><rect class="w" x="2894" y="559" width="121" height="50"/><text x="2954.5" y="572.5">regulation of<tspan x="2954.5" dy="15">protein metabolic</tspan><tspan x="2954.5" dy="15">process</tspan></text></g>
<g id="n-regulation-of-nucleobase-containing-compound-metabolic-process"><rect class="w" x="3142" y="551" width="153" height="65"/><text x="3218.5" y="564.5">regulation of<tspan x="3218.5" dy="15">nucleobase-containing</tspan><tspan x="3218.5" dy="15">compound metabolic</tspan><tspan x="3218.5" dy="15">process</tspan></text></g>
<g id="n-regulation-of-macromolecule-biosynthetic-process"><rect class="w" x="3320" y="551" width="106" height="65"/><text x="3373" y="564.5">regulation of<tspan x="3373" dy="15">macromolecule</tspan><tspan x="3373" dy="15">biosynthetic</tspan><tspan x="3373" dy="15">process</tspan></text></g>
<g id="n-positive-regulation-of-macromolecule-metabolic-process"><rect class="w" x="3501" y="559" width="128" height="50"/><text x="3565" y="572.5">positive regulation<tspan x="3565" dy="15">of macromolecule</tspan><tspan x="3565" dy="15">metabolic process</tspan></text></g>
<g id="n-positive-regulation-of-nitrogen-compound-metabolic-process"><rect class="w" x="3654" y="551" width="142" height="65"/><text x="3725" y="564.5">positive regulation<tspan x="3725" dy="15">of nitrogen</tspan><tspan x="3725" dy="15">compound metabolic</tspan><tspan x="3725" dy="15">process</tspan></text></g>
<g id="n-regulation-of-cellular-biosynthetic-process"><rect class="w" x="3821" y="559" width="139" height="50"/><text x="3890.5" y="572.5">regulation of<tspan x="3890.5" dy="15">cellular biosynthetic</tspan><tspan x="3890.5" dy="15">process</tspan></text></g>
<g id="n-positive-regulation-of-biosynthetic-process"><rect class="w" x="3983" y="559" width="129" height="50"/><text x="4047.5" y="572.5">positive regulation<tspan x="4047.5" dy="15">of biosynthetic</tspan><tspan x="4047.5" dy="15">process</tspan></text></g>
<g id="n-positive-regulation-of-cellular-metabolic-process"><rect class="w" x="4136" y="559" width="128" height="50"/><text x="4200" y="572.5">positive regulation<tspan x="4200" dy="15">of cellular</tspan><tspan x="4200" dy="15">metabolic process</tspan></text></g>
<g id="n-protein-alkylation"><rect class="w" x="1663" y="671" width="121" height="49"/><text x="1723.5" y="699">protein alkylation</text></g>
<g id="n-peptidyl-amino-acid-modification"><rect class="w" x="1809" y="671" width="117" height="49"/><text x="1867.5" y="691.5">peptidyl-amino<tspan x="1867.5" dy="15">acid modification</tspan></text></g>
<g id="n-protein-acylation"><rect class="w" x="2009" y="671" width="115" height="49"/><text x="2066.5" y="699">protein acylation</text></g>
<g id="n-rna-metabolic-process"><rect class="w" x="2977" y="671" width="102" height="49"/><text x="3028" y="691.5">RNA metabolic<tspan x="3028" dy="15">process</tspan></text></g>
<g id="n-positive-regulation-of-nucleobase-containing-compound-metabolic-process"><rect class="w" x="3306" y="664" width="171" height="64"/><text x="3391.5" y="677">positive regulation<tspan x="3391.5" dy="15">of nucleobase-containing</tspan><tspan x="3391.5" dy="15">compound metabolic</tspan><tspan x="3391.5" dy="15">process</tspan></text></g>
<g id="n-positive-regulation-of-macromolecule-biosynthetic-process"><rect class="w" x="3501" y="664" width="128" height="64"/><text x="3565" y="677">positive regulation<tspan x="3565" dy="15">of macromolecule</tspan><tspan x="3565" dy="15">biosynthetic</tspan><tspan x="3565" dy="15">process</tspan></text></g>
<g id="n-positive-regulation-of-cellular-biosynthetic-process"><rect class="w" x="3983" y="664" width="129" height="64"/><text x="4047.5" y="677">positive regulation<tspan x="4047.5" dy="15">of cellular</tspan><tspan x="4047.5" dy="15">biosynthetic</tspan><tspan x="4047.5" dy="15">process</tspan></text></g>
<g id="n-protein-methylation"><rect class="w" x="1558" y="777" width="135" height="48"/><text x="1625.5" y="804.5">protein methylation</text></g>
<g id="n-peptidyl-lysine-modification"><rect class="w" x="1717" y="777" width="102" height="48"/><text x="1768" y="797">peptidyl-lysine<tspan x="1768" dy="15">modification</tspan></text></g>
<g id="n-histone-modification"><rect class="w" x="1844" y="777" width="139" height="48"/><text x="1913.5" y="804.5">histone modification</text></g>
<g id="n-protein-acetylation"><rect class="w" x="2007" y="777" width="129" height="48"/><text x="2071.5" y="804.5">protein acetylation</text></g>
<g id="n-regulation-of-protein-modification-process"><rect class="w" x="2221" y="776" width="137" height="50"/><text x="2289.5" y="789.5">regulation of<tspan x="2289.5" dy="15">protein modification</tspan><tspan x="2289.5" dy="15">process</tspan></text></g>
<g id="n-rna-biosynthetic-process"><rect class="w" x="2880" y="777" width="118" height="48"/><text x="2939" y="797">RNA biosynthetic<tspan x="2939" dy="15">process</tspan></text></g>
<g id="n-regulation-of-rna-metabolic-process"><rect class="w" x="3074" y="776" width="102" height="50"/><text x="3125" y="789.5">regulation of<tspan x="3125" dy="15">RNA metabolic</tspan><tspan x="3125" dy="15">process</tspan></text></g>
<g id="n-peptidyl-lysine-methylation"><rect class="w" x="1453" y="891" width="102" height="48"/><text x="1504" y="911">peptidyl-lysine<tspan x="1504" dy="15">methylation</tspan></text></g>
<g id="n-histone-methylation"><rect class="w" x="1580" y="891" width="136" height="48"/><text x="1648" y="918.5">histone methylation</text></g>
<g id="n-peptidyl-lysine-acetylation"><rect class="w" x="1793" y="891" width="102" height="48"/><text x="1844" y="911">peptidyl-lysine<tspan x="1844" dy="15">acetylation</tspan></text></g>
<g id="n-internal-protein-amino-acid-acetylation"><rect class="w" x="1920" y="891" width="155" height="48"/><text x="1997.5" y="911">internal protein<tspan x="1997.5" dy="15">amino acid acetylation</tspan></text></g>
<g id="n-regulation-of-histone-modification"><rect class="w" x="2099" y="891" width="138" height="48"/><text x="2168" y="911">regulation of<tspan x="2168" dy="15">histone modification</tspan></text></g>
<g id="n-regulation-of-protein-acetylation"><rect class="w" x="2262" y="891" width="129" height="48"/><text x="2326.5" y="911">regulation of<tspan x="2326.5" dy="15">protein acetylation</tspan></text></g>
<g id="n-nucleic-acid-templated-transcription"><rect class="w" x="2833" y="891" width="155" height="48"/><text x="2910.5" y="911">nucleic acid-templated<tspan x="2910.5" dy="15">transcription</tspan></text></g>
<g id="n-regulation-of-rna-biosynthetic-process"><rect class="w" x="3063" y="890" width="118" height="49"/><text x="3122" y="903">regulation of<tspan x="3122" dy="15">RNA biosynthetic</tspan><tspan x="3122" dy="15">process</tspan></text></g>
<g id="n-positive-regulation-of-rna-metabolic-process"><rect class="w" x="3206" y="890" width="128" height="49"/><text x="3270" y="903">positive regulation<tspan x="3270" dy="15">of RNA metabolic</tspan><tspan x="3270" dy="15">process</tspan></text></g>
<g id="n-histone-lysine-methylation"><rect class="w" x="1581" y="1011" width="97" height="48"/><text x="1629.5" y="1031">histone lysine<tspan x="1629.5" dy="15">methylation</tspan></text></g>
<g id="n-internal-peptidyl-lysine-acetylation"><rect class="w" x="1819" y="1011" width="157" height="48"/><text x="1897.5" y="1031">internal peptidyl-lysine<tspan x="1897.5" dy="15">acetylation</tspan></text></g>
<g id="n-regulation-of-peptidyl-lysine-acetylation"><rect class="w" x="2014" y="1010" width="102" height="50"/><text x="2065" y="1023.5">regulation of<tspan x="2065" dy="15">peptidyl-lysine</tspan><tspan x="2065" dy="15">acetylation</tspan></text></g>
<g id="n-dna-templated-transcription"><rect class="w" x="2783" y="1011" width="106" height="48"/><text x="2836" y="1031">DNA-templated<tspan x="2836" dy="15">transcription</tspan></text></g>
<g id="n-regulation-of-nucleic-acid-templated-transcription"><rect class="w" x="2968" y="1010" width="155" height="50"/><text x="3045.5" y="1023.5">regulation of<tspan x="3045.5" dy="15">nucleic acid-templated</tspan><tspan x="3045.5" dy="15">transcription</tspan></text></g>
<g id="n-positive-regulation-of-rna-biosynthetic-process"><rect class="w" x="3185" y="1010" width="134" height="50"/><text x="3252" y="1023.5">positive regulation<tspan x="3252" dy="15">of RNA biosynthetic</tspan><tspan x="3252" dy="15">process</tspan></text></g>
<g id="n-peptidyl-lysine-trimethylation"><rect class="w" x="1453" y="1116" width="102" height="48"/><text x="1504" y="1136">peptidyl-lysine<tspan x="1504" dy="15">trimethylation</tspan></text></g>
<g id="n-histone-h3-k4-methylation"><rect class="w" x="1580" y="1116" width="99" height="48"/><text x="1629.5" y="1136">histone H3-K4<tspan x="1629.5" dy="15">methylation</tspan></text></g>
<g id="n-histone-acetylation"><rect class="w" x="1832" y="1116" width="131" height="48"/><text x="1897.5" y="1143.5">histone acetylation</text></g>
<g id="n-transcription-by-rnap2"><rect class="w" x="2622" y="1115" width="134" height="49"/><text x="2689" y="1128">transcription<tspan x="2689" dy="15">by RNA polymerase</tspan><tspan x="2689" dy="15">II</tspan></text></g>
<g id="n-regulation-of-dna-templated-transcription"><rect class="lb" x="2781" y="1115" width="107" height="49"/><text x="2834.5" y="1128">regulation of<tspan x="2834.5" dy="15">DNA-templated</tspan><tspan x="2834.5" dy="15">transcription</tspan></text></g>
<g id="n-positive-regulation-of-nucleic-acid-templated-transcription"><rect class="w" x="2964" y="1115" width="171" height="49"/><text x="3049.5" y="1128">positive regulation<tspan x="3049.5" dy="15">of nucleic acid-templated</tspan><tspan x="3049.5" dy="15">transcription</tspan></text></g>
<g id="n-histone-h3-k4-trimethylation"><rect class="lb" x="1517" y="1221" width="99" height="48"/><text x="1566.5" y="1241">histone H3-K4<tspan x="1566.5" dy="15">trimethylation</tspan></text></g>
<g id="n-regulation-of-histone-acetylation"><rect class="lb" x="2000" y="1221" width="130" height="48"/><text x="2065" y="1241">regulation of<tspan x="2065" dy="15">histone acetylation</tspan></text></g>
<g id="n-regulation-of-transcription-by-rnap2"><rect class="lb" x="2714" y="1213" width="134" height="64"/><text x="2781" y="1226">regulation of<tspan x="2781" dy="15">transcription</tspan><tspan x="2781" dy="15">by RNA polymerase</tspan><tspan x="2781" dy="15">II</tspan></text></g>
<g id="n-positive-regulation-of-dna-templated-transcription"><rect class="bl" x="2873" y="1220" width="128" height="50"/><text x="2937" y="1233.5">positive regulation<tspan x="2937" dy="15">of DNA-templated</tspan><tspan x="2937" dy="15">transcription</tspan></text></g>
<g id="n-positive-regulation-of-transcription-by-rnap2"><rect class="bl" x="2714" y="1325" width="134" height="64"/><text x="2781" y="1338">positive regulation<tspan x="2781" dy="15">of transcription</tspan><tspan x="2781" dy="15">by RNA polymerase</tspan><tspan x="2781" dy="15">II</tspan></text></g>
</svg>
